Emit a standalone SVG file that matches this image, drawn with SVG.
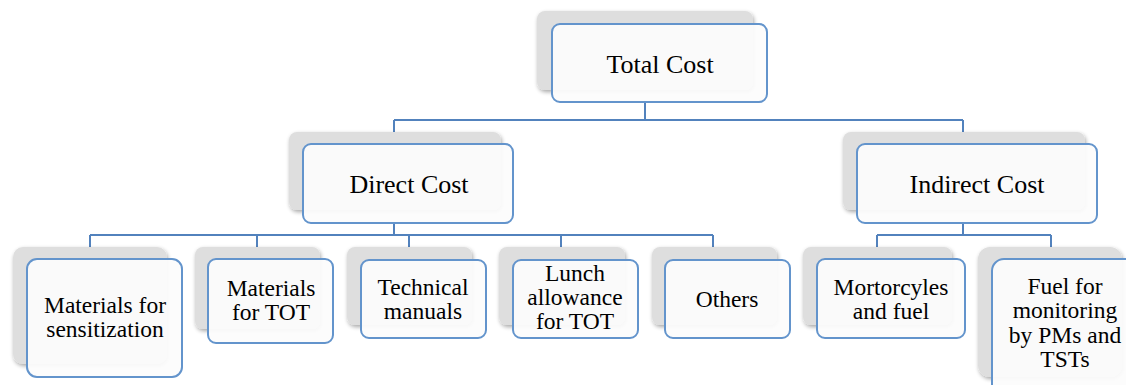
<svg xmlns="http://www.w3.org/2000/svg" width="1126" height="385" viewBox="0 0 1126 385">
  <defs>
    <filter id="soft" x="-10%" y="-10%" width="125%" height="130%">
      <feGaussianBlur in="SourceAlpha" stdDeviation="2"/>
      <feOffset dx="1" dy="2" result="b"/>
      <feComponentTransfer><feFuncA type="linear" slope="0.35"/></feComponentTransfer>
      <feMerge><feMergeNode/><feMergeNode in="SourceGraphic"/></feMerge>
    </filter>
    <style>
      .back { fill: #dedede; filter: url(#soft); }
      .card { fill: #fcfcfc; fill-opacity: 0.93; stroke: #6394cc; stroke-width: 2; }
      .link { fill: none; stroke: #5282bd; stroke-width: 2; }
      text { font-family: 'Liberation Serif', 'DejaVu Serif', serif; fill: #000; text-anchor: middle; }
      .big { font-size: 26px; }
      .small { font-size: 23.5px; }
    </style>
  </defs>
  <rect width="1126" height="385" fill="#ffffff"/>

  <!-- connectors -->
  <g id="connectors">
    <path class="link" d="M645 101 V120 M394 120 H963 M394 120 V132 M963 120 V132"/>
    <path class="link" d="M394 223 V235 M90 235 H713 M90 235 V247 M257 235 V247 M409 235 V247 M561 235 V247 M713 235 V247"/>
    <path class="link" d="M963 223 V235 M877 235 H1051 M877 235 V247 M1051 235 V247"/>
  </g>

  <g id="nodes" font-family="Liberation Serif, serif">
  <g id="total-cost">
    <rect class="back" x="537" y="11" width="216" height="79" rx="8"/>
    <rect class="card" x="552" y="24" width="215" height="78" rx="8"/>
    <text class="big" x="660" y="73">Total Cost</text>
  </g>

  <g id="direct-cost">
    <rect class="back" x="289" y="132" width="212" height="78" rx="8"/>
    <rect class="card" x="303" y="144" width="210" height="79" rx="8"/>
    <text class="big" x="409" y="193">Direct Cost</text>
  </g>

  <g id="indirect-cost">
    <rect class="back" x="843" y="132" width="242" height="78" rx="8"/>
    <rect class="card" x="857" y="144" width="240" height="79" rx="8"/>
    <text class="big" x="977" y="193">Indirect Cost</text>
  </g>

  <g id="materials-sensitization">
    <rect class="back" x="13" y="247" width="154" height="117" rx="10"/>
    <rect class="card" x="27" y="259" width="155" height="118" rx="10"/>
    <text class="small" x="105" y="313">Materials for</text>
    <text class="small" x="105" y="337">sensitization</text>
  </g>

  <g id="materials-tot">
    <rect class="back" x="195" y="247" width="125" height="82" rx="8"/>
    <rect class="card" x="208" y="259" width="125" height="84" rx="8"/>
    <text class="small" x="271" y="296">Materials</text>
    <text class="small" x="271" y="320">for TOT</text>
  </g>

  <g id="technical-manuals">
    <rect class="back" x="347" y="247" width="125" height="78" rx="8"/>
    <rect class="card" x="361" y="260" width="125" height="78" rx="8"/>
    <text class="small" x="423" y="295">Technical</text>
    <text class="small" x="423" y="319">manuals</text>
  </g>

  <g id="lunch-allowance">
    <rect class="back" x="499" y="247" width="126" height="78" rx="8"/>
    <rect class="card" x="513" y="260" width="125" height="78" rx="8"/>
    <text class="small" x="575" y="281">Lunch</text>
    <text class="small" x="575" y="305">allowance</text>
    <text class="small" x="575" y="329">for TOT</text>
  </g>

  <g id="others">
    <rect class="back" x="652" y="247" width="125" height="78" rx="8"/>
    <rect class="card" x="665" y="260" width="125" height="78" rx="8"/>
    <text class="small" x="727" y="307">Others</text>
  </g>

  <g id="motorcycles-fuel">
    <rect class="back" x="803" y="247" width="149" height="78" rx="8"/>
    <rect class="card" x="817" y="259" width="148" height="79" rx="8"/>
    <text class="small" x="891" y="295">Mortorcyles</text>
    <text class="small" x="891" y="319">and fuel</text>
  </g>

  <g id="fuel-monitoring">
    <rect class="back" x="978" y="247" width="144" height="130" rx="12"/>
    <rect class="card" x="992" y="259" width="146" height="140" rx="12"/>
    <text class="small" x="1065" y="294">Fuel for</text>
    <text class="small" x="1065" y="318">monitoring</text>
    <text class="small" x="1065" y="343">by PMs and</text>
    <text class="small" x="1065" y="367">TSTs</text>
  </g>
  </g>
</svg>
